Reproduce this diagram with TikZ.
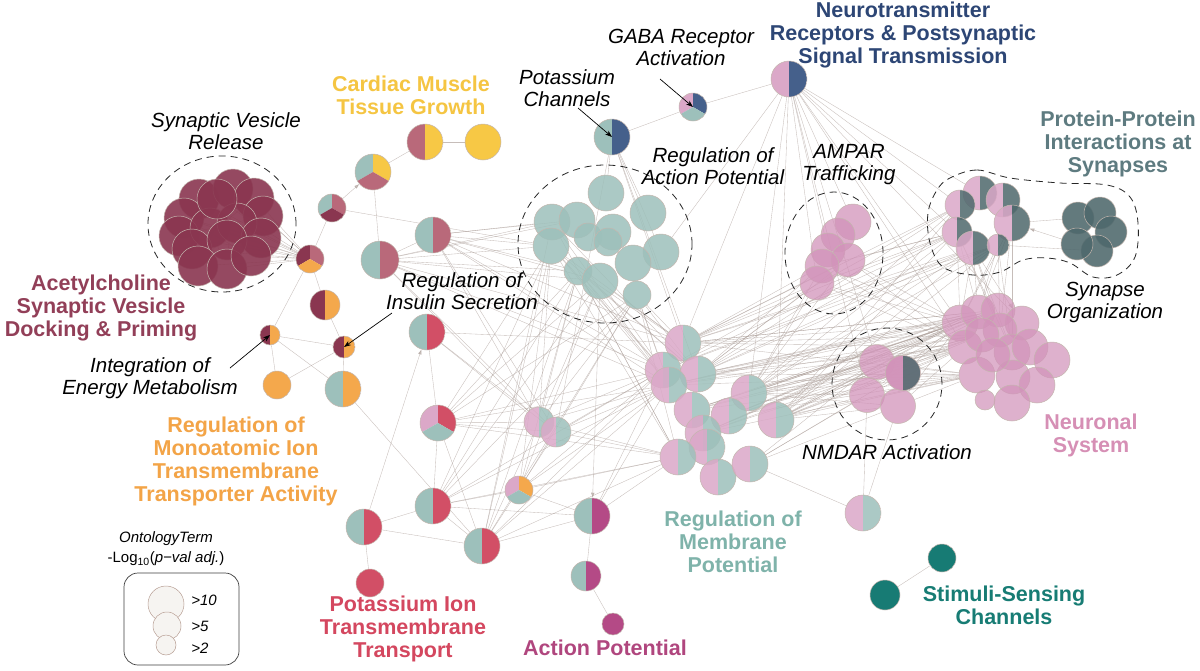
\documentclass[tikz,border=0pt]{standalone}
\usepackage{fontspec}
\setmainfont{Liberation Sans}
\usetikzlibrary{arrows.meta,backgrounds}

\definecolor{maroonc}{HTML}{8A3650}
\definecolor{roseb}{HTML}{B9697A}
\definecolor{yellowc}{HTML}{F7C845}
\definecolor{orangec}{HTML}{F4A84C}
\definecolor{tealc}{HTML}{9DC0BB}
\definecolor{crimc}{HTML}{D24F66}
\definecolor{purpc}{HTML}{B44A86}
\definecolor{navyc}{HTML}{45608B}
\definecolor{pinkc}{HTML}{DBA8C8}
\definecolor{pinkd}{HTML}{D293BA}
\definecolor{slatec}{HTML}{4E686C}
\definecolor{dteal}{HTML}{177B74}
\definecolor{ringc}{HTML}{C4B6AE}
\definecolor{edgec}{HTML}{A89A94}
\definecolor{legc}{HTML}{F6F4F1}
\definecolor{legring}{HTML}{B89F95}
% label colours
\definecolor{txtnavy}{HTML}{2D4675}
\definecolor{txtyellow}{HTML}{F5C542}
\definecolor{txtmaroon}{HTML}{923F58}
\definecolor{txtorange}{HTML}{F3A447}
\definecolor{txtcrim}{HTML}{D4475F}
\definecolor{txtpurp}{HTML}{B0467E}
\definecolor{txtteal}{HTML}{7FB3AA}
\definecolor{txtdteal}{HTML}{177C74}
\definecolor{txtpink}{HTML}{D68FB5}
\definecolor{txtslate}{HTML}{5E7B80}

\tikzset{
  bub/.style={circle, draw=ringc, line width=.5pt, inner sep=0pt, minimum size=#1},
  duo/.style 2 args={path picture={
      \fill[#1] (path picture bounding box.south west) rectangle (path picture bounding box.north);
      \fill[#2] (path picture bounding box.south) rectangle (path picture bounding box.north east);}},
  trio/.style n args={3}{path picture={
      \coordinate (pc) at (path picture bounding box.center);
      \fill[#1] (pc) -- +(90:30pt) -- +(150:30pt) -- +(210:30pt) -- cycle;
      \fill[#2] (pc) -- +(90:30pt) -- +(30:30pt) -- +(-30:30pt) -- cycle;
      \fill[#3] (pc) -- +(210:30pt) -- +(270:30pt) -- +(330:30pt) -- cycle;}},
  link/.style={draw=edgec, line width=.35pt, opacity=.65},
  dirlink/.style={link, -{Latex[length=5pt,width=3.5pt]}},
  labarrow/.style={-{Stealth[length=7pt,width=5pt]}, line width=.7pt, black},
  hull/.style={dash pattern=on 7pt off 5pt, line width=.8pt, black!85},
  catlbl/.style={font=\fontsize{21.5}{23}\selectfont\bfseries, align=center},
  termlbl/.style={font=\fontsize{20.5}{22}\selectfont\itshape, align=center},
}

\begin{document}
\begin{tikzpicture}[x=1pt, y=-1pt]
\useasboundingbox (0,0) rectangle (1200,670);

% synaptic vesicle release
\begin{scope}[every node/.style={bub=40pt, fill=maroonc, fill opacity=.9}]
  \node (sv1)  at (199,199) {};
  \node (sv2)  at (233,189) {};
  \node (sv3)  at (254,198) {};
  \node (sv4)  at (184,218) {};
  \node (sv5)  at (263,216) {};
  \node (sv6)  at (179,236) {};
  \node (sv7)  at (210,228) {};
  \node (sv8)  at (237,223) {};
  \node (sv9)  at (261,238) {};
  \node (sv10) at (192,249) {};
  \node (sv11) at (227,240) {};
  \node (sv12) at (198,266) {};
  \node (sv13) at (227,269) {};
  \node (sv14) at (251,256) {};
  \node (sv15) at (217,199) {};
\end{scope}

% left chain
\node[bub=28pt, trio={maroonc}{roseb}{orangec}] (a1) at (310,259) {};
\node[bub=28pt, trio={tealc}{roseb}{maroonc}] (a2) at (332,208) {};
\node[bub=36pt, trio={tealc}{yellowc}{roseb}] (a3) at (373,172) {};
\node[bub=38pt, duo={tealc}{roseb}] (a4) at (380,260) {};
\node[bub=36pt, duo={tealc}{roseb}] (a5) at (433,235) {};
\node[bub=36pt, duo={roseb}{yellowc}] (cm1) at (425,142) {};
\node[bub=36pt, fill=yellowc] (cm2) at (483,142) {};
\node[bub=30pt, duo={maroonc}{orangec}] (b1) at (325,305) {};
\node[bub=20pt, duo={maroonc}{orangec}] (b2) at (270,335) {};
\node[bub=22pt, duo={maroonc}{orangec}] (b3) at (344,347) {};
\node[bub=28pt, fill=orangec] (b4) at (277,385) {};
\node[bub=36pt, duo={tealc}{orangec}] (b5) at (343,389) {};
\node[bub=36pt, duo={tealc}{crimc}] (ins) at (427,332) {};

% channels and receptors
\node[bub=36pt, duo={tealc}{navyc}] (kc) at (612,137) {};
\node[bub=28pt, trio={pinkc}{navyc}{tealc}] (gaba) at (693,107) {};
\node[bub=36pt, duo={pinkc}{navyc}] (nt) at (789,79) {};

% regulation of action potential
\begin{scope}[every node/.style={bub=36pt, fill=tealc, fill opacity=.85}]
  \node (ap1)  at (606,193) {};
  \node (ap2)  at (552,222) {};
  \node (ap3)  at (577,220) {};
  \node (ap4)  at (648,213) {};
  \node[minimum size=28pt] (ap5)  at (588,237) {};
  \node (ap6)  at (613,232) {};
  \node (ap7)  at (551,246) {};
  \node[minimum size=28pt] (ap8)  at (608,242) {};
  \node (ap9)  at (661,252) {};
  \node[minimum size=28pt] (ap10) at (578,271) {};
  \node (ap11) at (600,281) {};
  \node (ap12) at (633,263) {};
  \node[minimum size=28pt] (ap13) at (637,295) {};
\end{scope}

% AMPAR trafficking
\begin{scope}[every node/.style={bub=34pt, fill=pinkd, fill opacity=.75}]
  \node[minimum size=36pt] (am1) at (853,222) {};
  \node (am2) at (838,235) {};
  \node (am3) at (828,250) {};
  \node (am4) at (848,260) {};
  \node (am5) at (822,266) {};
  \node (am6) at (817,283) {};
\end{scope}

% protein-protein interactions
\begin{scope}[every node/.style={bub=34pt, duo={pinkc}{slatec}, fill opacity=.85}]
  \node (pp1) at (980,193) {};
  \node (pp2) at (1003,200) {};
  \node[minimum size=30pt] (pp3) at (960,205) {};
  \node[minimum size=36pt] (pp4) at (1012,223) {};
  \node[minimum size=30pt] (pp5) at (957,232) {};
  \node (pp6) at (973,248) {};
  \node[minimum size=22pt] (pp7) at (998,245) {};
\end{scope}
\begin{scope}[every node/.style={bub=32pt, fill=slatec, fill opacity=.88}]
  \node (ds1) at (1078,218) {};
  \node (ds2) at (1100,213) {};
  \node (ds3) at (1111,232) {};
  \node (ds4) at (1097,251) {};
  \node (ds5) at (1077,244) {};
\end{scope}

% neuronal system
\begin{scope}[every node/.style={bub=34pt, fill=pinkd, fill opacity=.72}]
  \node[minimum size=36pt] (ns1) at (960,323) {};
  \node (ns2)  at (978,312) {};
  \node (ns3)  at (998,310) {};
  \node (ns4)  at (1022,323) {};
  \node (ns5)  at (1000,330) {};
  \node (ns6)  at (965,347) {};
  \node (ns7)  at (982,335) {};
  \node[minimum size=36pt] (ns8)  at (1012,352) {};
  \node[minimum size=36pt] (ns9)  at (1030,347) {};
  \node[minimum size=36pt] (ns10) at (1052,360) {};
  \node[minimum size=36pt] (ns11) at (977,375) {};
  \node (ns12) at (1013,377) {};
  \node[minimum size=36pt] (ns13) at (1037,385) {};
  \node[minimum size=20pt] (ns14) at (985,400) {};
  \node[minimum size=36pt] (ns15) at (1012,403) {};
  \node (ns16) at (993,355) {};
\end{scope}

% NMDAR activation
\begin{scope}[every node/.style={bub=35pt, fill=pinkd, fill opacity=.75}]
  \node (nm1) at (877,362) {};
  \node (nm3) at (867,395) {};
  \node (nm4) at (898,406) {};
  \node[duo={pinkd}{slatec}, fill opacity=.85] (nm2) at (903,373) {};
\end{scope}

% regulation of membrane potential
\begin{scope}[every node/.style={bub=36pt, duo={pinkc}{tealc}, fill opacity=.85}]
  \node (mp1)  at (683,343) {};
  \node (mp2)  at (663,370) {};
  \node (mp3)  at (698,374) {};
  \node (mp4)  at (669,385) {};
  \node (mp5)  at (692,410) {};
  \node (mp6)  at (749,393) {};
  \node (mp7)  at (729,416) {};
  \node (mp8)  at (776,420) {};
  \node (mp9)  at (703,433) {};
  \node (mp11) at (707,447) {};
  \node (mp10) at (678,457) {};
  \node (mp12) at (718,477) {};
  \node (mp13) at (750,464) {};
  \node (mp14) at (863,513) {};
\end{scope}

% lower left
\node[bub=36pt, trio={pinkc}{crimc}{tealc}] (lb1) at (438,423) {};
\node[bub=30pt, duo={pinkc}{tealc}, fill opacity=.85] (lb2) at (539,422) {};
\node[bub=30pt, duo={pinkc}{tealc}, fill opacity=.85] (lb3) at (556,432) {};
\node[bub=28pt, trio={pinkc}{orangec}{tealc}] (lb4) at (519,490) {};
\node[bub=36pt, duo={tealc}{crimc}] (lb0) at (364,527) {};
\node[bub=36pt, duo={tealc}{crimc}] (lb5) at (433,506) {};
\node[bub=36pt, duo={tealc}{crimc}] (lb6) at (482,546) {};
\node[bub=36pt, duo={tealc}{purpc}] (lb7) at (592,516) {};
\node[bub=30pt, duo={tealc}{purpc}] (lb8) at (586,576) {};
\node[bub=22pt, fill=purpc] (lb9) at (613,624) {};
\node[bub=28pt, fill=crimc] (kion) at (370,583) {};

% stimuli-sensing channels
\node[bub=28pt, fill=dteal] (st1) at (942,558) {};
\node[bub=30pt, fill=dteal] (st2) at (885,595) {};

% dashed groupings
\draw[hull] (222,224) ellipse [x radius=74pt, y radius=68pt];
\draw[hull] (605,244) ellipse [x radius=87pt, y radius=79pt];
\draw[hull] (834,253) ellipse [x radius=49pt, y radius=61pt];
\draw[hull] (887,384) ellipse [x radius=55pt, y radius=56pt];
\draw[hull] plot[smooth cycle, tension=.6] coordinates {(950,178) (977,170) (1010,178)
  (1060,183) (1107,185) (1130,197) (1138,223) (1135,257) (1117,275) (1093,277)
  (1070,263) (1047,258) (1023,260) (1000,272) (973,275) (943,267) (930,243) (928,213) (937,190)};

% group labels
\node[catlbl, text=txtnavy] (lntr) at (903,35) {Neurotransmitter\\Receptors \& Postsynaptic\\Signal Transmission};
\node[catlbl, text=txtyellow] (lcard) at (411,95) {Cardiac Muscle\\Tissue Growth};
\node[catlbl, text=txtslate] (lppi) at (1118,144) {Protein-Protein\\Interactions at\\Synapses};
\node[catlbl, text=txtmaroon] (lach) at (101,308) {Acetylcholine\\Synaptic Vesicle\\Docking \& Priming};
\node[catlbl, text=txtorange] (lmono) at (236,461) {Regulation of\\Monoatomic Ion\\Transmembrane\\Transporter Activity};
\node[catlbl, text=txtpink] (lneu) at (1091,435) {Neuronal\\System};
\node[catlbl, text=txtteal] (lmem) at (733,542) {Regulation of\\Membrane\\Potential};
\node[catlbl, text=txtcrim] (lkion) at (403,629) {Potassium Ion\\Transmembrane\\Transport};
\node[catlbl, text=txtpurp] (lact) at (605,648) {Action Potential};
\node[catlbl, text=txtdteal] (lstim) at (1004,605) {Stimuli-Sensing\\Channels};

% term labels
\node[termlbl] (tsvr) at (226,131) {Synaptic Vesicle\\Release};
\node[termlbl] (tkc) at (567,88) {Potassium\\Channels};
\node[termlbl] (tgaba) at (681,47) {GABA Receptor\\Activation};
\node[termlbl] (trap) at (713,166) {Regulation of\\Action Potential};
\node[termlbl] (tampa) at (849,165) {AMPAR\\Trafficking};
\node[termlbl] (tsyn) at (1105,302) {Synapse\\Organization};
\node[termlbl] (tins) at (462,291) {Regulation of\\Insulin Secretion};
\node[termlbl] (tint) at (150,378) {Integration of\\Energy Metabolism};
\node[termlbl] (tnmd) at (887,452) {NMDAR Activation};

% label pointers
\coordinate (kcTail) at (578,108);
\coordinate (gabaTail) at (660,79);
\coordinate (intTail) at (230,368);
\coordinate (insTail) at (392,313);
\draw[labarrow] (kcTail) -- (kc.center);
\draw[labarrow] (gabaTail) -- (gaba.center);
\draw[labarrow] (intTail) -- (b2.center);
\draw[labarrow] (insTail) -- (b3.center);

% legend
\node[font=\fontsize{15}{17}\selectfont\itshape] (legt) at (166,539) {OntologyTerm};
\node[font=\fontsize{15}{17}\selectfont] (legs) at (166,559) {-Log\textsubscript{10}(\textit{p−val adj.})};
\draw[rounded corners=14pt, line width=.7pt, black!75] (124,573) rectangle (239,665);
\node[bub=36pt, fill=legc, draw=legring] (lg1) at (166,604) {};
\node[bub=28pt, fill=legc, draw=legring] (lg2) at (167,626) {};
\node[bub=20pt, fill=legc, draw=legring] (lg3) at (166,645) {};
\begin{scope}[every node/.style={font=\fontsize{15}{17}\selectfont\itshape}]
  \node (lgt1) at (204,600) {>10};
  \node (lgt2) at (200,626) {>5};
  \node (lgt3) at (200,648) {>2};
\end{scope}

% connectors
\begin{pgfonlayer}{background}
  \fill[white] (0,0) rectangle (1200,670);
  \foreach \i in {1,...,15} \draw[link] (sv\i) -- (a1);
  \foreach \i/\j in {1/9,2/12,3/10,4/14,5/6,7/13,8/12,11/15,2/13,4/9}
    \draw[link] (sv\i) -- (sv\j);
  \foreach \a/\b in {a1/a2,a3/cm1,cm1/cm2,a3/a4,a1/b1,a1/b2,b1/b3,b2/b3,b2/b4,b3/b5,
      b4/b3,b2/b5,a2/ap7,a4/a5,b5/lb6,st1/st2,lb0/lb5,lb0/lb6,lb0/kion,lb5/lb6,
      lb1/lb5,lb1/lb6,lb5/lb4,lb6/lb7,lb4/lb7,lb7/lb8,lb8/lb9,lb5/lb7,lb6/lb2,lb1/lb2,
      lb1/lb3,lb6/lb3,ins/lb1,kc/gaba,gaba/nt,mp13/mp14,mp14/nm3,mp14/nm4,ds1/pp4,ds4/pp7}
    \draw[link] (\a) -- (\b);
  \draw[dirlink] (a2) -- (a3);
  \draw[dirlink] (lb0) -- (ins);
  \draw[dirlink] (ap11) -- (lb7);
  \draw[dirlink] (ds5) -- (pp4);
  \draw[dirlink] (pp6) -- (ns4);
  \foreach \a in {a4,a5}
    \foreach \b in {ap2,ap3,ap7,ap10,ap11,mp2,mp4}
      \draw[link] (\a) -- (\b);
  \foreach \a in {a4,a5,ins}
    \foreach \b in {mp1,lb2,lb3}
      \draw[link] (\a) -- (\b);
  \foreach \b in {ap1,ap4,ap9,mp1,mp3,lb3}
    \draw[link] (kc) -- (\b);
  \foreach \b in {am1,am3,am6,pp1,pp3,pp5,ns1,ns4,ns6,nm1,nm3,mp1,mp6,mp8,ap9}
    \draw[link] (nt) -- (\b);
  \foreach \a in {ap7,ap10,ap11,ap13}
    \foreach \b in {mp1,mp2,lb1,lb2,lb4,lb5}
      \draw[link] (\a) -- (\b);
  \foreach \a in {ap2,ap7,ap10,ap13}
    \foreach \b in {mp3,mp4,mp10,lb6}
      \draw[link] (\a) -- (\b);
  \foreach \a in {ns1,ns2,ns6,ns7,ns11,ns3}
    \foreach \b in {mp1,mp3,mp4,mp5,mp6,mp7,mp8,mp9}
      \draw[link] (\a) -- (\b);
  \foreach \a in {pp3,pp5,pp6,pp7}
    \foreach \b in {mp1,mp2,mp3,mp6,mp8}
      \draw[link] (\a) -- (\b);
  \foreach \a in {pp4,pp5,pp6,pp7}
    \foreach \b in {ns1,ns2,ns5,ns8}
      \draw[link] (\a) -- (\b);
  \foreach \a in {am4,am5,am6}
    \foreach \b in {mp1,mp3,mp6,ns1,ns6,pp5}
      \draw[link] (\a) -- (\b);
  \foreach \a in {nm1,nm2,nm3,nm4}
    \foreach \b in {mp6,mp8,mp13,ns1,ns6,ns11}
      \draw[link] (\a) -- (\b);
  \foreach \a in {lb1,lb2,lb3,lb4,lb5,lb6,lb7}
    \foreach \b in {mp2,mp4,mp10}
      \draw[link] (\a) -- (\b);
\end{pgfonlayer}
\end{tikzpicture}
\end{document}
